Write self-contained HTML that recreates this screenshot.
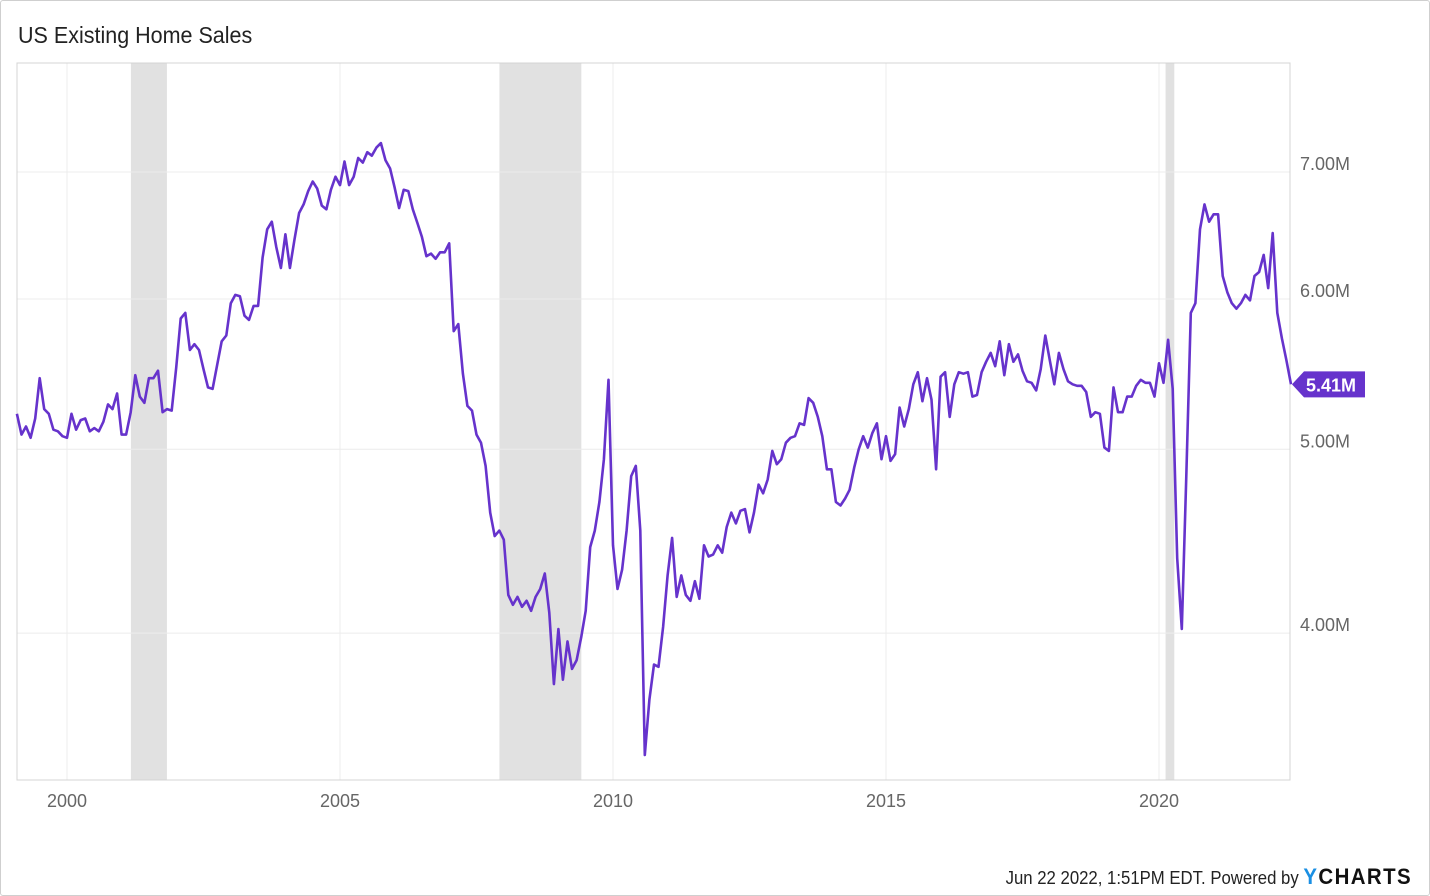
<!DOCTYPE html>
<html><head><meta charset="utf-8"><style>
html,body{margin:0;padding:0;background:#fff;}
body{width:1430px;height:896px;overflow:hidden;font-family:"Liberation Sans",sans-serif;}
#frame{position:absolute;left:0;top:0;width:1428px;height:894px;border:1px solid #cfcfcf;border-radius:3px;}
#title{position:absolute;left:18px;top:22px;font-size:23px;color:#222;transform:scaleX(0.935);transform-origin:left;}
#footer{position:absolute;right:18px;top:864px;font-size:18px;color:#222;white-space:nowrap;transform:scaleX(0.93);transform-origin:right;}
#footer b{font-size:22px;letter-spacing:1.5px;color:#111;}
svg{position:absolute;left:0;top:0;}
</style></head><body>
<div id="frame"></div>
<div id="title">US Existing Home Sales</div>
<svg id="chart" width="1430" height="896"></svg>
<div id="footer">Jun 22 2022, 1:51PM EDT. Powered by <b><span style="color:#1a8fe3">Y</span>CHARTS</b></div>
<script>
const startYear = 1999;
const sales = [
5.22,5.09,5.14,5.07,5.19,5.45,5.25,5.22,5.12,5.11,5.08,5.07,
5.22,5.12,5.18,5.19,5.11,5.13,5.11,5.17,5.28,5.25,5.35,5.09,
5.09,5.23,5.47,5.33,5.29,5.45,5.45,5.50,5.23,5.25,5.24,5.52,
5.86,5.90,5.64,5.68,5.64,5.51,5.39,5.38,5.54,5.70,5.74,5.97,
6.03,6.02,5.88,5.85,5.95,5.95,6.31,6.53,6.59,6.39,6.23,6.49,
6.23,6.45,6.66,6.73,6.84,6.92,6.86,6.72,6.69,6.85,6.96,6.89,
7.09,6.89,6.96,7.12,7.08,7.17,7.14,7.21,7.25,7.10,7.03,6.87,
6.70,6.85,6.84,6.69,6.58,6.47,6.32,6.34,6.30,6.35,6.35,6.42,
5.77,5.82,5.48,5.27,5.24,5.09,5.04,4.90,4.63,4.50,4.53,4.48,
4.19,4.14,4.18,4.13,4.16,4.11,4.18,4.22,4.30,4.10,3.76,4.02,
3.78,3.96,3.83,3.87,3.98,4.11,4.44,4.53,4.69,4.94,5.44,4.45,
4.22,4.32,4.53,4.84,4.90,4.53,3.45,3.69,3.85,3.84,4.03,4.29,
4.49,4.18,4.29,4.19,4.16,4.26,4.17,4.45,4.39,4.40,4.45,4.41,
4.55,4.63,4.57,4.64,4.65,4.52,4.63,4.79,4.74,4.82,4.99,4.91,
4.94,5.04,5.07,5.08,5.16,5.15,5.32,5.29,5.20,5.08,4.88,4.88,
4.69,4.67,4.71,4.76,4.89,5.00,5.08,5.01,5.10,5.16,4.94,5.08,
4.93,4.97,5.26,5.14,5.25,5.41,5.49,5.30,5.45,5.31,4.88,5.46,
5.49,5.20,5.41,5.49,5.48,5.49,5.33,5.34,5.49,5.56,5.62,5.53,
5.70,5.47,5.68,5.56,5.61,5.50,5.43,5.42,5.37,5.51,5.74,5.57,
5.41,5.62,5.51,5.43,5.41,5.40,5.40,5.36,5.20,5.23,5.22,5.01,
4.99,5.39,5.23,5.23,5.33,5.33,5.40,5.44,5.42,5.42,5.33,5.55,
5.42,5.71,5.38,4.38,4.02,4.84,5.90,5.97,6.53,6.73,6.59,6.65,
6.65,6.17,6.05,5.97,5.93,5.97,6.03,5.99,6.17,6.20,6.33,6.08,
6.50,5.90,5.72,5.57,5.41];
const yTicks = [4,5,6,7];
const yTickLabels = ["4.00M","5.00M","6.00M","7.00M"];
const xTicks = [2000,2005,2010,2015,2020];
const recessionStarts = [2001.17,2007.92,2020.12];
const recessionEnds = [2001.83,2009.42,2020.28];

const NS="http://www.w3.org/2000/svg";
const svg=document.getElementById('chart');
const L=17,R=1290,T=63,B=780;
function xs(t){return 67+(t-2000)*54.6;}
function ys(v){return 172+(Math.log(7)-Math.log(v))*824;}
function mk(tag,attrs,parent){const e=document.createElementNS(NS,tag);for(const k in attrs)e.setAttribute(k,attrs[k]);(parent||svg).appendChild(e);return e;}

const rec=mk('g',{});


recessionStarts.forEach((s,i)=>{
  const r=mk('rect',{x:xs(s),y:T,width:xs(recessionEnds[i])-xs(s),height:B-T,fill:'#e1e1e1'},rec);
  
  
});
const grid=mk('g',{});


yTicks.forEach((v,i)=>{
  mk('line',{x1:L,x2:R,y1:ys(v),y2:ys(v),stroke:'#ececec','stroke-width':1},grid);
  const t=mk('text',{x:1300,y:ys(v)-2,'font-size':18,fill:'#666','font-family':'Liberation Sans, sans-serif'});
  t.textContent=yTickLabels[i];
  
  
});
xTicks.forEach(yr=>{
  mk('line',{x1:xs(yr),x2:xs(yr),y1:T,y2:B,stroke:'#ececec','stroke-width':1},grid);
  const t=mk('text',{x:xs(yr),y:807,'font-size':18,fill:'#666','text-anchor':'middle','font-family':'Liberation Sans, sans-serif'});
  t.textContent=String(yr);
  
  
});
const border=mk('rect',{x:L,y:T,width:R-L,height:B-T,fill:'none',stroke:'#d4d4d4','stroke-width':1});



let d='';
sales.forEach((v,i)=>{const t=startYear+(i+1)/12;d+=(i?'L':'M')+xs(t).toFixed(1)+','+ys(v).toFixed(1);});
const line=mk('path',{d:d,fill:'none',stroke:'#6633cc','stroke-width':2.6,'stroke-linejoin':'round'});



const last=sales[sales.length-1];
const ly=ys(last);
const badge=mk('path',{d:`M1292,${ly} L1304,${ly-13} L1365,${ly-13} L1365,${ly+13} L1304,${ly+13} Z`,fill:'#6633cc'});


const bt=mk('text',{x:1306,y:ly+7,'font-size':18,'font-weight':'bold',fill:'#fff','font-family':'Liberation Sans, sans-serif'});
bt.textContent=last.toFixed(2)+'M';


</script>
</body></html>
